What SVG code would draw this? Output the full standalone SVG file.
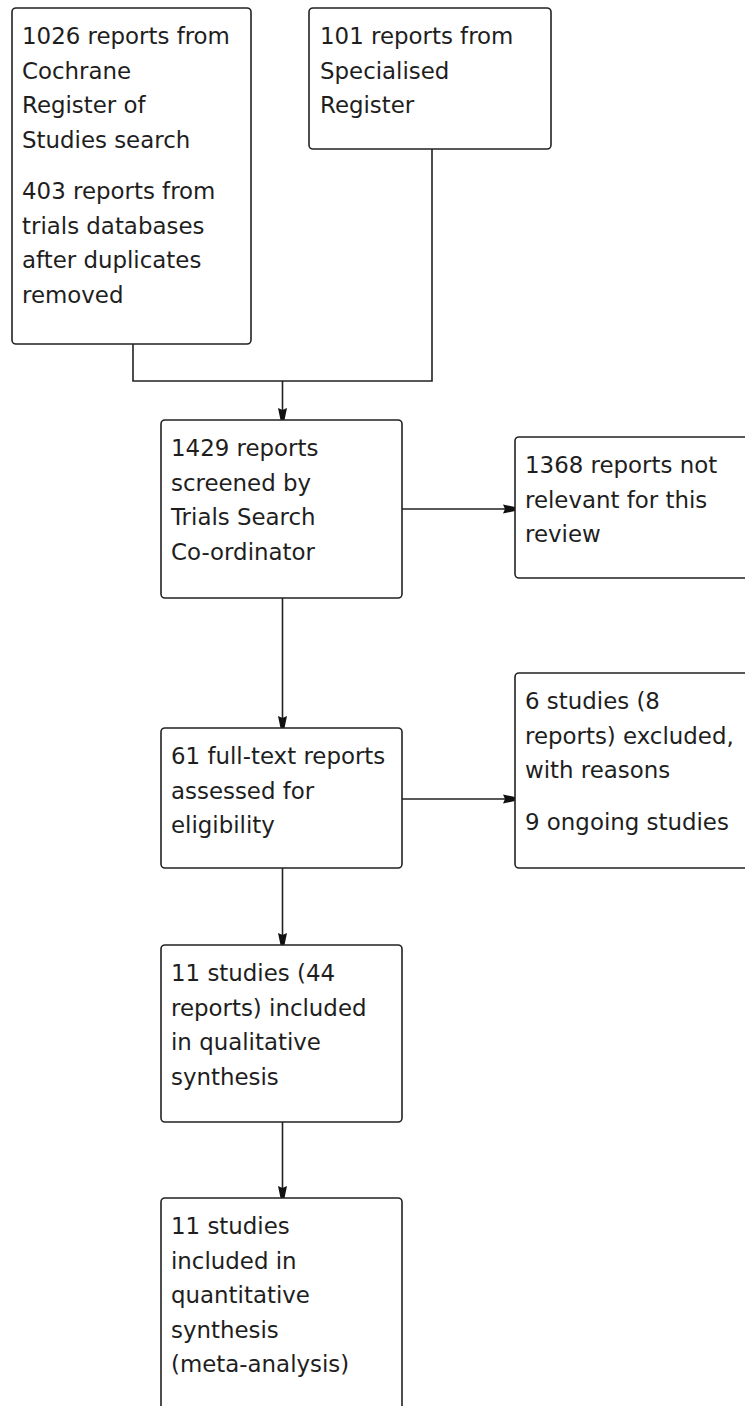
<svg xmlns="http://www.w3.org/2000/svg" width="745" height="1406" viewBox="0 0 745 1406">
<style>
.box{fill:#fff;stroke:#222;stroke-width:1.6}
.t{font-family:"DejaVu Sans",Verdana,sans-serif;font-size:22.9px;fill:#1e1e1e}
.c{fill:none;stroke:#222;stroke-width:1.6}
</style>
<defs>
<marker id="ah" viewBox="0 0 12 10" refX="12" refY="5" markerWidth="12" markerHeight="10" markerUnits="userSpaceOnUse" orient="auto">
<path d="M0,0.5 L2,5 L0,9.5 L12,7 L12,3 Z" fill="#111"/>
</marker>
</defs>
<rect width="745" height="1406" fill="#fff"/>
<g id="connectors">
<path class="c" d="M133,344 V381 H432 V149"/>
<path class="c" d="M282.5,381 V420" marker-end="url(#ah)"/>
<path class="c" d="M402,509 H515" marker-end="url(#ah)"/>
<path class="c" d="M282.5,598 V728" marker-end="url(#ah)"/>
<path class="c" d="M402,799 H515" marker-end="url(#ah)"/>
<path class="c" d="M282.5,868 V945" marker-end="url(#ah)"/>
<path class="c" d="M282.5,1122 V1198" marker-end="url(#ah)"/>
</g>
<g id="n1">
<rect class="box" x="12" y="8" width="239" height="336" rx="4"/>
<text class="t" x="22" y="44">1026 reports from</text>
<text class="t" x="22" y="78.5">Cochrane</text>
<text class="t" x="22" y="113">Register of</text>
<text class="t" x="22" y="147.5">Studies search</text>
<text class="t" x="22" y="199">403 reports from</text>
<text class="t" x="22" y="233.5">trials databases</text>
<text class="t" x="22" y="268">after duplicates</text>
<text class="t" x="22" y="302.5">removed</text>
</g>
<g id="n2">
<rect class="box" x="309" y="8" width="242" height="141" rx="4"/>
<text class="t" x="320" y="44">101 reports from</text>
<text class="t" x="320" y="78.5">Specialised</text>
<text class="t" x="320" y="113">Register</text>
</g>
<g id="n3">
<rect class="box" x="161" y="420" width="241" height="178" rx="4"/>
<text class="t" x="171" y="456">1429 reports</text>
<text class="t" x="171" y="490.5">screened by</text>
<text class="t" x="171" y="525">Trials Search</text>
<text class="t" x="171" y="559.5">Co-ordinator</text>
</g>
<g id="n4">
<rect class="box" x="515" y="437" width="250" height="141" rx="4"/>
<text class="t" x="525" y="473">1368 reports not</text>
<text class="t" x="525" y="507.5">relevant for this</text>
<text class="t" x="525" y="542">review</text>
</g>
<g id="n5">
<rect class="box" x="161" y="728" width="241" height="140" rx="4"/>
<text class="t" x="171" y="764">61 full-text reports</text>
<text class="t" x="171" y="798.5">assessed for</text>
<text class="t" x="171" y="833">eligibility</text>
</g>
<g id="n6">
<rect class="box" x="515" y="673" width="250" height="195" rx="4"/>
<text class="t" x="525" y="709">6 studies (8</text>
<text class="t" x="525" y="743.5">reports) excluded,</text>
<text class="t" x="525" y="778">with reasons</text>
<text class="t" x="525" y="830">9 ongoing studies</text>
</g>
<g id="n7">
<rect class="box" x="161" y="945" width="241" height="177" rx="4"/>
<text class="t" x="171" y="981">11 studies (44</text>
<text class="t" x="171" y="1015.5">reports) included</text>
<text class="t" x="171" y="1050">in qualitative</text>
<text class="t" x="171" y="1084.5">synthesis</text>
</g>
<g id="n8">
<rect class="box" x="161" y="1198" width="241" height="230" rx="4"/>
<text class="t" x="171" y="1234">11 studies</text>
<text class="t" x="171" y="1268.5">included in</text>
<text class="t" x="171" y="1303">quantitative</text>
<text class="t" x="171" y="1337.5">synthesis</text>
<text class="t" x="171" y="1372">(meta-analysis)</text>
</g>
</svg>
